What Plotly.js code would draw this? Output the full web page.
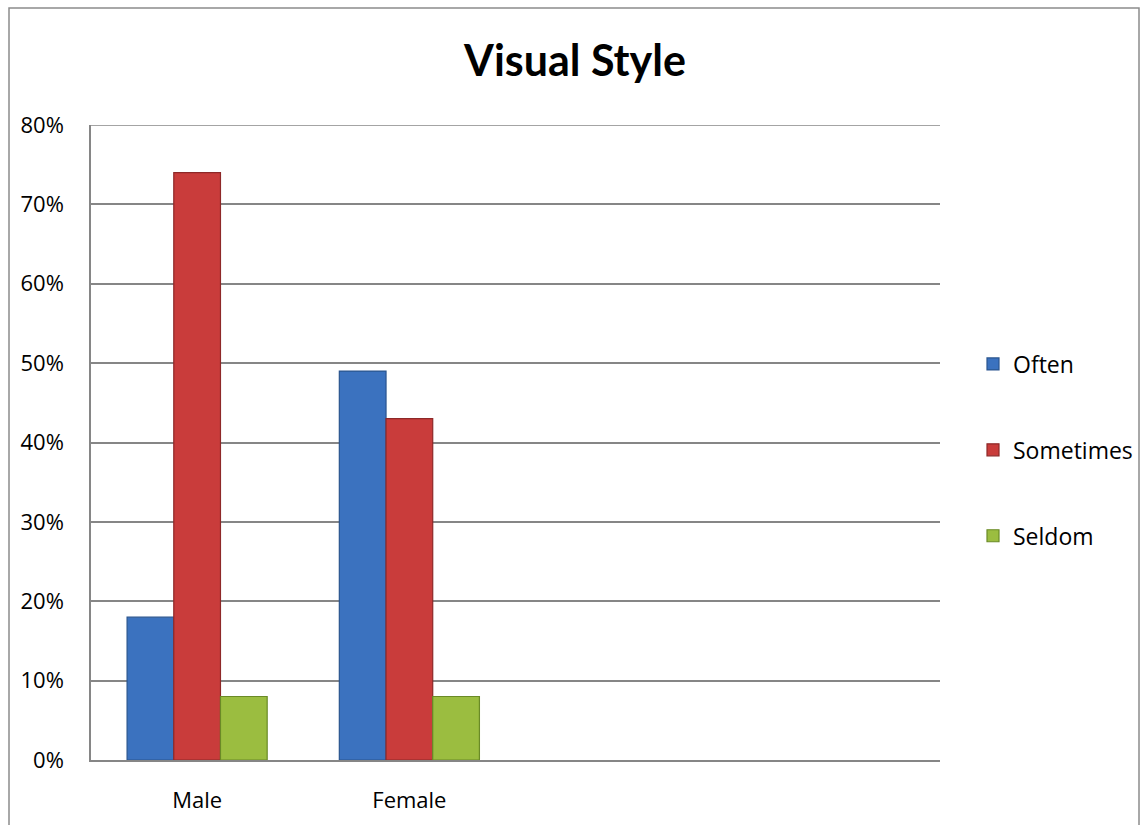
<!DOCTYPE html>
<html>
<head>
<meta charset="utf-8">
<script src="https://cdn.plot.ly/plotly-3.0.1.min.js"></script>
<style>
  html, body { margin: 0; padding: 0; background: #ffffff; }
  #chart { width: 1141px; height: 825px; }
</style>
</head>
<body>
<div id="chart"></div>
<script>
// Share of respondents by gender and how often they use a visual style
const categories = ['Male', 'Female', ' ', '  '];
const often = [0.18, 0.49, null, null];
const sometimes = [0.74, 0.43, null, null];
const seldom = [0.08, 0.08, null, null];
const yTicks = [0, 0.1, 0.2, 0.3, 0.4, 0.5, 0.6, 0.7, 0.8];

const FONT = '"Open Sans", Lato, "Liberation Sans", sans-serif';
const TITLE_FONT = 'Lato, "Open Sans", sans-serif';

function series(name, values, fill, edge) {
  return {
    type: 'bar',
    name: name,
    x: categories,
    y: values,
    legendgroup: name,
    marker: { color: fill, line: { color: edge, width: 1.2 } },
    hoverinfo: 'x+y+name'
  };
}

const data = [
  series('Often', often, '#3b72bf', '#2a558f'),
  series('Sometimes', sometimes, '#c93c3b', '#8e2828'),
  series('Seldom', seldom, '#9bbd40', '#6a8a26')
];

const plotLeft = 91, plotRight = 940, plotTop = 125, plotBottom = 760;
const W = 1141, H = 825;
const pw = plotRight - plotLeft, ph = plotBottom - plotTop;
const px = v => (v - plotLeft) / pw;
const py = v => (plotBottom - v) / ph;

const layout = {
  width: W,
  height: H,
  margin: { l: plotLeft, r: W - plotRight, t: plotTop, b: H - plotBottom, pad: 0, autoexpand: false },
  paper_bgcolor: '#ffffff',
  plot_bgcolor: '#ffffff',
  font: { family: FONT, color: '#000000', size: 22 },
  title: {
    text: '<b>Visual Style</b>',
    font: { family: TITLE_FONT, size: 43, color: '#000000' },
    x: 575 / W,
    xanchor: 'center',
    y: 1 - 61 / H,
    yanchor: 'middle'
  },
  barmode: 'group',
  bargap: 0.34,
  bargroupgap: 0,
  xaxis: {
    type: 'category',
    categoryorder: 'array',
    categoryarray: categories,
    range: [-0.5, 3.5],
    showgrid: false,
    zeroline: false,
    showline: true,
    linecolor: '#868686',
    linewidth: 1.5,
    ticks: 'outside',
    ticklen: 20,
    tickcolor: 'rgba(0,0,0,0)',
    tickfont: { family: FONT, size: 22, color: '#000000' },
    fixedrange: true
  },
  yaxis: {
    range: [0, 0.8],
    tickvals: yTicks,
    tickformat: '.0%',
    showgrid: true,
    gridcolor: '#868686',
    gridwidth: 1.5,
    zeroline: false,
    showline: true,
    linecolor: '#868686',
    linewidth: 1.5,
    ticks: 'outside',
    ticklen: 21,
    tickcolor: 'rgba(0,0,0,0)',
    tickfont: { family: FONT, size: 22, color: '#000000' },
    fixedrange: true
  },
  showlegend: true,
  legend: {
    x: px(973),
    xanchor: 'left',
    y: py(450),
    yanchor: 'middle',
    traceorder: 'grouped',
    tracegroupgap: 53,
    font: { family: FONT, size: 23, color: '#000000' },
    bgcolor: 'rgba(0,0,0,0)',
    itemclick: false,
    itemdoubleclick: false
  },
  shapes: [
    // outer chart frame
    {
      type: 'rect',
      xref: 'paper', yref: 'paper',
      x0: px(9), x1: px(1139),
      y0: py(840), y1: py(8),
      line: { color: '#8c8c8c', width: 1.5 },
      fillcolor: 'rgba(0,0,0,0)',
      layer: 'below'
    },
    // gridline at the top of the value range
    {
      type: 'line',
      xref: 'paper', yref: 'y',
      x0: 0, x1: 1, y0: 0.8, y1: 0.8,
      line: { color: '#868686', width: 1.5 },
      layer: 'below'
    }
  ]
};

Plotly.newPlot('chart', data, layout, { displayModeBar: false });
</script>
</body>
</html>
